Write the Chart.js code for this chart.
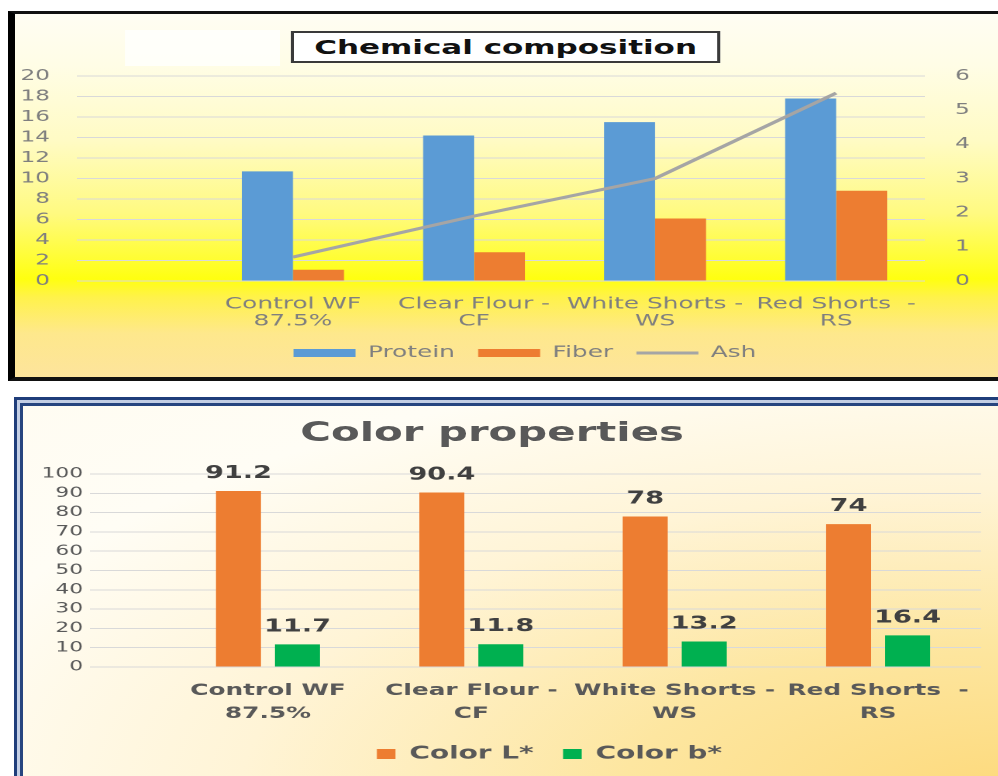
<!DOCTYPE html>
<html>
<head>
<meta charset="utf-8">
<script src="https://cdn.jsdelivr.net/npm/chart.js@4.4.1/dist/chart.umd.min.js"></script>
<style>
  html, body { margin: 0; padding: 0; background: #fff; width: 998px; height: 776px; overflow: hidden; }
  body { position: relative; font-family: "DejaVu Sans", Verdana, sans-serif; }
  .panel { position: absolute; }
  #top {
    left: 8px; top: 11px; width: 1000px; height: 363px;
    border-left: 7px solid #000; border-top: 3px solid #111; border-bottom: 4px solid #111;
    background: linear-gradient(to bottom, #fffdf3 0%, #fffde6 14%, #fffbc4 35%, #fffa80 55%, #ffff10 73%, #fff24a 78%, #fee88c 88%, #fde49c 100%);
  }
  #bottom {
    left: 14px; top: 397px; width: 1000px; height: 400px; overflow: hidden;
    border: 3px solid #1f3d7a;
    box-shadow: inset 0 0 0 3px #c3cee4, inset 0 0 0 6px #27457f;
    background: radial-gradient(ellipse at 100% 100%, #fdd97a 0%, #fde6a0 28%, #fff4d6 55%, #fffdf5 80%, #fffcf2 100%);
  }
  /* the reference is stretched sideways, so each chart is drawn narrow and widened */
  .stretch { position: absolute; transform-origin: 0 0; transform: scaleX(1.55); }
  #chemBox {
    position: absolute; left: 178px; top: 17px; width: 273px; height: 28px;
    border: 2px solid #3a3a3a; background: #fff;
    font: bold 20px "DejaVu Sans", sans-serif; line-height: 28px; text-align: center; color: #111;
  }
  #blank { position: absolute; left: 71px; top: 16px; width: 100px; height: 36px; background: rgba(255,255,255,0.75); }
  #colorTitle {
    position: absolute; left: 0; top: 10px; width: 604px; height: 34px;
    font: bold 27px "DejaVu Sans", sans-serif; line-height: 34px; text-align: center; color: #595959;
  }
</style>
</head>
<body>
<div class="panel" id="top">
  <div class="stretch" style="left:0;top:0;width:658px;height:365px;">
    <div id="blank"></div>
    <canvas id="chemChart" width="658" height="365"></canvas>
    <div id="chemBox">Chemical composition</div>
  </div>
</div>
<div class="panel" id="bottom">
  <div class="stretch" style="left:7px;top:5px;width:678px;height:379px;">
    <canvas id="colorChart" width="678" height="379"></canvas>
    <div id="colorTitle">Color properties</div>
  </div>
</div>
<script>
// data
const categories = [
  ['Control WF', '87.5%'],
  ['Clear Flour -', 'CF'],
  ['White Shorts -', 'WS'],
  ['Red Shorts  -', 'RS']
];
const protein = [10.7, 14.2, 15.5, 17.8];
const fiber = [1.1, 2.8, 6.1, 8.8];
const ash = [0.7, 1.9, 3.0, 5.5];
const colorL = [91.2, 90.4, 78, 74];
const colorB = [11.7, 11.8, 13.2, 16.4];

Chart.defaults.font.family = '"DejaVu Sans", Verdana, sans-serif';
Chart.defaults.animation = false;
Chart.defaults.plugins.tooltip.enabled = false;

const points = arr => arr.map((v, i) => ({x: i, y: v}));

// linear x axis so the empty room left of the first group can be kept
function categoryAxis(min, max, font, color, padding, height) {
  return {
    type: 'linear',
    min: min,
    max: max,
    offset: false,
    grid: {display: false, drawTicks: false},
    border: {display: false},
    afterBuildTicks: axis => { axis.ticks = categories.map((c, i) => ({value: i})); },
    afterFit: axis => { axis.height = height; },
    ticks: {autoSkip: false, maxRotation: 0, padding: padding, font: font, color: color,
      callback: v => categories[v]}
  };
}

const barValueLabels = {
  id: 'barValueLabels',
  afterDatasetsDraw(chart) {
    const ctx = chart.ctx;
    ctx.save();
    ctx.font = 'bold 17.5px "DejaVu Sans", sans-serif';
    ctx.fillStyle = '#404040';
    ctx.textAlign = 'center';
    ctx.textBaseline = 'alphabetic';
    chart.data.datasets.forEach((ds, i) => {
      chart.getDatasetMeta(i).data.forEach((bar, j) => {
        ctx.fillText(String(ds.data[j].y), bar.x, bar.y - 13);
      });
    });
    ctx.restore();
  }
};

new Chart(document.getElementById('chemChart'), {
  type: 'bar',
  data: {
    datasets: [
      {label: 'Protein', data: points(protein), backgroundColor: '#5b9bd5', pointStyle: 'rect', order: 1, yAxisID: 'y'},
      {label: 'Fiber', data: points(fiber), backgroundColor: '#ed7d31', pointStyle: 'rect', order: 1, yAxisID: 'y'},
      {type: 'line', label: 'Ash', data: points(ash), borderColor: '#a5a5a5', backgroundColor: '#a5a5a5',
        borderWidth: 3, pointRadius: 0, pointStyle: 'line', tension: 0, order: 0, yAxisID: 'y1'}
    ]
  },
  options: {
    responsive: false,
    devicePixelRatio: 2,
    layout: {padding: {left: 0, top: 62, right: 0, bottom: 8}},
    datasets: {bar: {categoryPercentage: 0.563, barPercentage: 1}},
    scales: {
      x: categoryAxis(-1.193, 3.49, {size: 16, lineHeight: 1.05}, '#7f7f7f', 15, 49),
      y: {
        position: 'left', min: 0, max: 20,
        ticks: {stepSize: 2, autoSkip: false, padding: 17.4, color: '#7f7f7f', font: {size: 15}},
        grid: {color: '#d9d9d9', drawTicks: false},
        border: {display: false},
        afterFit: a => { a.width = 40; }
      },
      y1: {
        position: 'right', min: 0, max: 6,
        ticks: {stepSize: 1, autoSkip: false, padding: 19.5, color: '#7f7f7f', font: {size: 15}},
        grid: {display: false, drawTicks: false},
        border: {display: false},
        afterFit: a => { a.width = 71; }
      }
    },
    plugins: {
      legend: {
        position: 'bottom',
        labels: {
          usePointStyle: true, pointStyleWidth: 40, boxHeight: 8, padding: 15,
          color: '#7f7f7f', font: {size: 16},
          sort: (a, b) => a.datasetIndex - b.datasetIndex
        }
      }
    }
  }
});

new Chart(document.getElementById('colorChart'), {
  type: 'bar',
  data: {
    datasets: [
      {label: 'Color L*', data: points(colorL), backgroundColor: '#ed7d31'},
      {label: 'Color b*', data: points(colorB), backgroundColor: '#00b050'}
    ]
  },
  options: {
    responsive: false,
    devicePixelRatio: 2,
    layout: {padding: {left: 0, top: 69, right: 0, bottom: 11}},
    datasets: {bar: {categoryPercentage: 0.58, barPercentage: 0.763}},
    scales: {
      x: categoryAxis(-0.875, 3.506, {size: 16, weight: 'bold', lineHeight: 1.45}, '#595959', 12, 59),
      y: {
        min: 0, max: 100,
        ticks: {stepSize: 10, autoSkip: false, padding: 4.5, color: '#595959', font: {size: 14}},
        grid: {color: '#d9d9d9', drawTicks: false},
        border: {display: false},
        afterFit: a => { a.width = 42.6; }
      },
      // empty right-hand room, keeps the legend centred where the reference has it
      yRoom: {
        position: 'right', display: true,
        ticks: {display: false},
        grid: {display: false, drawTicks: false},
        border: {display: false},
        afterFit: a => { a.width = 60.6; }
      }
    },
    plugins: {
      legend: {
        position: 'bottom',
        labels: {boxWidth: 12, boxHeight: 10, padding: 19, color: '#595959', font: {size: 18, weight: 'bold'}}
      }
    }
  },
  plugins: [barValueLabels]
});
</script>
</body>
</html>
